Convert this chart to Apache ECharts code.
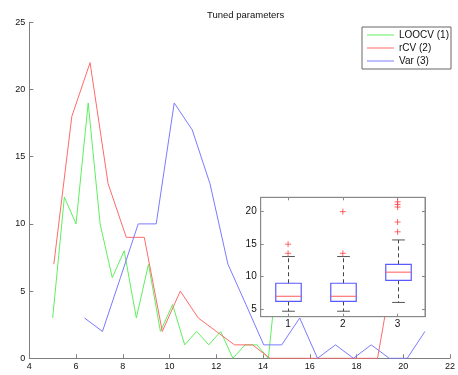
<!DOCTYPE html>
<html><head><meta charset="utf-8">
<script src="https://cdn.jsdelivr.net/npm/echarts@6/dist/echarts.min.js"></script>
<style>html,body{margin:0;padding:0;background:#fff}#c{width:458px;height:375px}</style>
</head><body><div id="c"></div>
<script>
const titleText = 'Tuned parameters';
const seriesNames = ['LOOCV (1)', 'rCV (2)', 'Var (3)'];

const loocvX = [5.0, 5.5, 6.0, 6.52, 7.03, 7.55, 8.06, 8.58, 9.1, 9.61, 10.13, 10.65, 11.16, 11.68, 12.19, 12.71, 13.23, 13.74, 14.23, 14.75];
const loocvY = [3, 12, 10, 19, 10, 6, 8, 3, 7, 2, 4, 1, 2, 1, 2, 0, 1, 1, 0, 9];

const rcvX = [5.05, 5.82, 6.6, 7.37, 8.15, 8.92, 9.69, 10.46, 11.23, 12.0, 12.78, 13.55, 14.3, 15.08, 15.85, 16.62, 17.4, 18.17, 18.9, 19.7];
const rcvY = [7, 18, 22, 13, 9, 9, 2, 5, 3, 2, 1, 1, 0, 0, 0, 0, 0, 0, 0, 8];

const varX = [6.36, 7.13, 7.9, 8.66, 9.43, 10.2, 10.97, 11.73, 12.5, 13.27, 14.03, 14.8, 15.57, 16.33, 17.1, 17.87, 18.63, 19.4, 20.17, 20.93];
const varY = [3, 2, 6, 10, 10, 19, 17, 13, 7, 4, 1, 1, 3, 0, 1, 0, 1, 0, 0, 2];

const boxCategories = [1, 2, 3];
const boxLow  = [4.7, 4.7, 6.05];
const boxQ1   = [6.2, 6.2, 9.45];
const boxMed  = [7.0, 7.0, 10.7];
const boxQ3   = [9.0, 9.0, 11.9];
const boxHigh = [13.1, 13.1, 15.65];
const outlierCat = [1, 1, 2, 2, 3, 3, 3, 3, 3];
const outlierVal = [13.6, 15.0, 13.6, 20.0, 16.9, 18.4, 20.7, 21.1, 21.5];
const insetYTicks = [5, 10, 15, 20];

const colors = ['#5ef05e', '#ff6a6a', '#7a7aff'];
const axisGray = '#7f7f7f';
const font = 'Liberation Sans, Arial, Helvetica, sans-serif';

const zip = (xs, ys) => xs.map((x, i) => [x, ys[i]]);
const boxData = boxCategories.map((c, i) => [c, boxLow[i], boxQ1[i], boxMed[i], boxQ3[i], boxHigh[i]]);
const outlierData = outlierCat.map((c, i) => [c, outlierVal[i]]);

const chart = echarts.init(document.getElementById('c'), null, {renderer: 'canvas'});

const lineSeries = (name, data, color) => ({
  name, type: 'line', data, xAxisIndex: 0, yAxisIndex: 0,
  symbol: 'none', showSymbol: false, lineStyle: {color, width: 1}, itemStyle: {color},
  z: 2
});

const option = {
  animation: false,
  backgroundColor: '#fff',
  textStyle: {fontFamily: font},
  title: {
    text: titleText, left: 202, top: 5,
    textStyle: {fontSize: 9.5, fontWeight: 'normal', color: '#111', fontFamily: font}
  },
  legend: {
    data: seriesNames, orient: 'vertical', left: 362, top: 27,
    icon: 'rect', itemWidth: 27, itemHeight: 1, itemGap: 1,
    padding: [2, 2, 2, 5],
    borderColor: '#666', borderWidth: 1, backgroundColor: '#fff',
    textStyle: {fontSize: 10, color: '#111', fontFamily: font, lineHeight: 12}
  },
  grid: [
    {left: 29.3, top: 22.3, width: 425.2, height: 336, show: false},
    {left: 260.7, top: 197.3, width: 164.3, height: 119.4, show: true,
     backgroundColor: '#fff', borderColor: '#888', borderWidth: 1, zlevel: 1}
  ],
  xAxis: [
    {type: 'value', gridIndex: 0, min: 4, max: 22, interval: 2,
     axisLine: {show: true, lineStyle: {color: axisGray}},
     axisTick: {show: true, inside: true, length: 4, lineStyle: {color: axisGray}},
     axisLabel: {fontSize: 9, color: '#111', margin: 4, fontFamily: font},
     splitLine: {show: false}},
    {type: 'value', gridIndex: 1, min: 0.5, max: 3.5, zlevel: 1,
     axisLine: {show: true, onZero: false, lineStyle: {color: '#888'}},
     axisTick: {show: true, inside: true, length: 3, customValues: boxCategories, lineStyle: {color: '#888'}},
     axisLabel: {fontSize: 10, color: '#111', margin: 3, customValues: boxCategories, fontFamily: font},
     splitLine: {show: false}},
    {type: 'value', gridIndex: 1, min: 0.5, max: 3.5, position: 'top', zlevel: 1,
     axisLine: {show: true, onZero: false, lineStyle: {color: '#888'}},
     axisTick: {show: true, inside: true, length: 3, customValues: boxCategories, lineStyle: {color: '#888'}},
     axisLabel: {show: false},
     splitLine: {show: false}}
  ],
  yAxis: [
    {type: 'value', gridIndex: 0, min: 0, max: 25, interval: 5,
     axisLine: {show: true, lineStyle: {color: axisGray}},
     axisTick: {show: true, inside: true, length: 4, lineStyle: {color: axisGray}},
     axisLabel: {fontSize: 9, color: '#111', margin: 4, fontFamily: font},
     splitLine: {show: false}},
    {type: 'value', gridIndex: 1, min: 3.86, max: 22.2, zlevel: 1,
     axisLine: {show: true, onZero: false, lineStyle: {color: '#888'}},
     axisTick: {show: true, inside: true, length: 3, customValues: insetYTicks, lineStyle: {color: '#888'}},
     axisLabel: {fontSize: 10, color: '#111', margin: 4, customValues: insetYTicks, fontFamily: font},
     splitLine: {show: false}},
    {type: 'value', gridIndex: 1, min: 3.86, max: 22.2, position: 'right', zlevel: 1,
     axisLine: {show: true, onZero: false, lineStyle: {color: '#888'}},
     axisTick: {show: true, inside: true, length: 3, customValues: insetYTicks, lineStyle: {color: '#888'}},
     axisLabel: {show: false},
     splitLine: {show: false}}
  ],
  series: [
    lineSeries(seriesNames[0], zip(loocvX, loocvY), colors[0]),
    lineSeries(seriesNames[1], zip(rcvX, rcvY), colors[1]),
    lineSeries(seriesNames[2], zip(varX, varY), colors[2]),
    {
      name: 'box', type: 'custom', xAxisIndex: 1, yAxisIndex: 1, zlevel: 1, z: 5,
      data: boxData,
      renderItem: function (params, api) {
        const x = api.value(0);
        const pLo = api.coord([x, api.value(1)]);
        const pQ1 = api.coord([x, api.value(2)]);
        const pMed = api.coord([x, api.value(3)]);
        const pQ3 = api.coord([x, api.value(4)]);
        const pHi = api.coord([x, api.value(5)]);
        const halfW = api.size([0.465, 0])[0] / 2;
        const capHalf = halfW / 2;
        const cx = Math.round(pMed[0]) + 0.5;
        const dash = {stroke: '#444', lineWidth: 1, lineDash: [4, 3]};
        const solid = (c) => ({stroke: c, lineWidth: 1});
        return {
          type: 'group',
          children: [
            {type: 'line', shape: {x1: cx, y1: pQ3[1], x2: cx, y2: pHi[1]}, style: dash},
            {type: 'line', shape: {x1: cx, y1: pQ1[1], x2: cx, y2: pLo[1]}, style: dash},
            {type: 'line', shape: {x1: cx - capHalf, y1: pHi[1], x2: cx + capHalf, y2: pHi[1]}, style: solid('#555')},
            {type: 'line', shape: {x1: cx - capHalf, y1: pLo[1], x2: cx + capHalf, y2: pLo[1]}, style: solid('#555')},
            {type: 'rect', shape: {x: cx - halfW, y: pQ3[1], width: 2 * halfW, height: pQ1[1] - pQ3[1]},
             style: {fill: 'none', stroke: '#5a5aff', lineWidth: 1.2}},
            {type: 'line', shape: {x1: cx - halfW, y1: pMed[1], x2: cx + halfW, y2: pMed[1]}, style: solid('#ff5a5a')}
          ]
        };
      }
    },
    {
      name: 'outliers', type: 'scatter', xAxisIndex: 1, yAxisIndex: 1, zlevel: 1, z: 6,
      data: outlierData,
      symbol: 'path://M0,-1L0,1M-1,0L1,0', symbolSize: 6,
      itemStyle: {color: 'none', borderColor: '#ff4040', borderWidth: 1}
    }
  ]
};
chart.setOption(option);
</script>
</body></html>
